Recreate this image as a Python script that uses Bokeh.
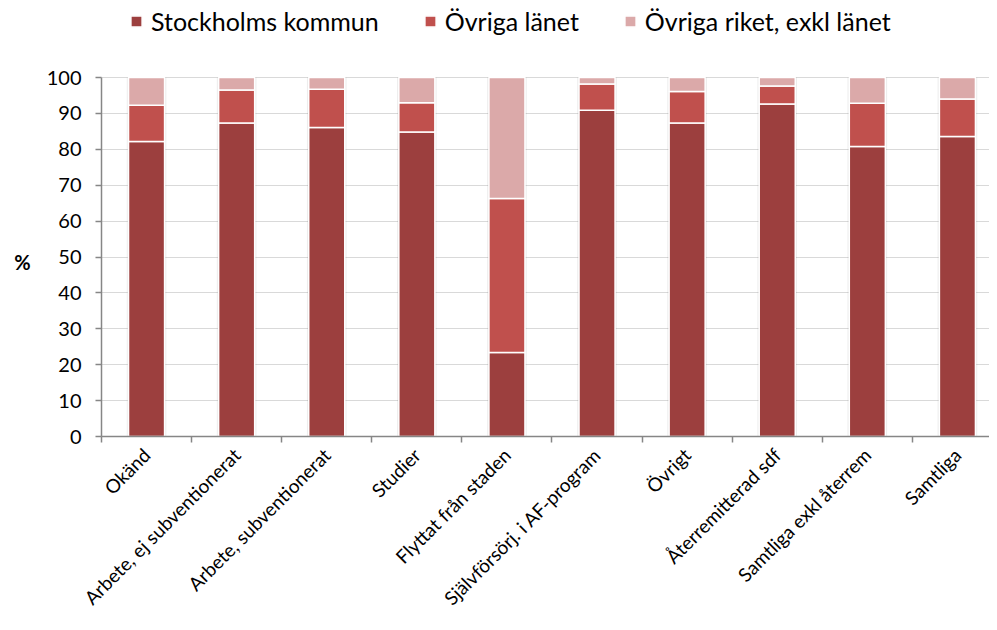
import math
from bokeh.plotting import figure
from bokeh.models import ColumnDataSource, Range1d, FixedTicker, Legend, LegendItem
from bokeh.embed import file_html
from bokeh.resources import INLINE

categories = ["Okänd", "Arbete, ej subventionerat", "Arbete, subventionerat", "Studier",
              "Flyttat från staden", "Självförsörj. i AF-program", "Övrigt",
              "Återremitterad sdf", "Samtliga exkl återrem", "Samtliga"]
stockholms_kommun = [82.2, 87.3, 86.1, 84.8, 23.4, 90.9, 87.3, 92.6, 80.8, 83.6]
ovriga_lanet = [10.1, 9.2, 10.6, 8.2, 42.9, 7.3, 8.8, 5.0, 12.0, 10.4]
ovriga_riket = [7.7, 3.5, 3.3, 7.0, 33.7, 1.8, 3.9, 2.4, 7.2, 6.0]
series_names = ["Stockholms kommun", "Övriga länet", "Övriga riket, exkl länet"]
colors = ["#9C3F3E", "#C0504D", "#DBA9A9"]
y_ticks = list(range(0, 101, 10))

FONT = "Lato"

xs = list(range(1, len(categories) + 1))
totals = [a + b + c for a, b, c in zip(stockholms_kommun, ovriga_lanet, ovriga_riket)]
src = ColumnDataSource(dict(x=xs, s=stockholms_kommun, l=ovriga_lanet, r=ovriga_riket, tot=totals))

# frame reaches the top of the figure so the legend can sit above the 0-100 area
p = figure(frame_width=888, frame_height=436, output_backend="svg", toolbar_location=None,
           x_range=Range1d(0.5, 10.356), y_range=Range1d(0, 121.45),
           min_border_left=101, min_border_right=0, min_border_top=0, min_border_bottom=170)
p.outline_line_color = None
p.background_fill_color = "white"

# subtle shadow behind bars
p.vbar(x="x", top="tot", bottom=0, width=0.44, source=src, fill_color="#000000",
       fill_alpha=0.07, line_color=None)

rs = p.vbar_stack(["s", "l", "r"], x="x", width=0.4, color=colors, line_color="white",
                  line_width=1.5, source=src)

# x axis: boundary ticks (minor), rotated category labels at centres
p.xaxis.ticker = FixedTicker(ticks=xs, minor_ticks=[x - 0.5 for x in xs] + [xs[-1] + 0.5])
p.xaxis.major_label_overrides = {x: c for x, c in zip(xs, categories)}
p.xaxis.major_label_orientation = math.pi / 4
p.xaxis.major_tick_line_color = None
p.xaxis.minor_tick_out = 6
p.xaxis.minor_tick_in = 0
p.xaxis.minor_tick_line_color = "#868686"
p.xaxis.minor_tick_line_width = 1.5
p.xaxis.axis_line_color = "#868686"
p.xaxis.axis_line_width = 1.5
p.xaxis.major_label_text_font = FONT
p.xaxis.major_label_text_font_size = "19px"
p.xaxis.major_label_text_color = "#000000"
p.xaxis.major_label_standoff = 9

p.yaxis.ticker = FixedTicker(ticks=y_ticks, minor_ticks=[])
p.yaxis.bounds = (0, 100)
p.yaxis.major_tick_out = 6
p.yaxis.major_tick_in = 0
p.yaxis.major_tick_line_color = "#868686"
p.yaxis.major_tick_line_width = 1.5
p.yaxis.axis_line_color = "#868686"
p.yaxis.axis_line_width = 1.5
p.yaxis.major_label_text_font = FONT
p.yaxis.major_label_text_font_size = "20px"
p.yaxis.major_label_text_color = "#000000"
p.yaxis.major_label_standoff = 14
# leading blank lines push the "%" down to the middle of the 0-100 span
p.yaxis.axis_label = "\n\n\n%"
p.yaxis.axis_label_text_font = FONT
p.yaxis.axis_label_text_font_style = "bold"
p.yaxis.axis_label_text_font_size = "20px"
p.yaxis.axis_label_text_color = "#000000"
p.yaxis.axis_label_text_line_height = 1.2
p.yaxis.axis_label_standoff = 13
p.yaxis.axis_label_orientation = "horizontal"

p.xgrid.visible = False
p.ygrid.grid_line_color = "#D9D9D9"
p.ygrid.grid_line_width = 1
p.ygrid.bounds = (0, 100)

legend = Legend(items=[LegendItem(label=n, renderers=[r]) for n, r in zip(series_names, rs)],
                orientation="horizontal", location=(28, 400),
                label_text_font=FONT, label_text_font_size="25px", label_text_color="#000000",
                glyph_width=14, glyph_height=14, label_standoff=8, spacing=44,
                border_line_color=None, background_fill_alpha=0, padding=4,
                margin=0)
p.add_layout(legend, "center")

open("out.html", "w").write(file_html(p, INLINE))
